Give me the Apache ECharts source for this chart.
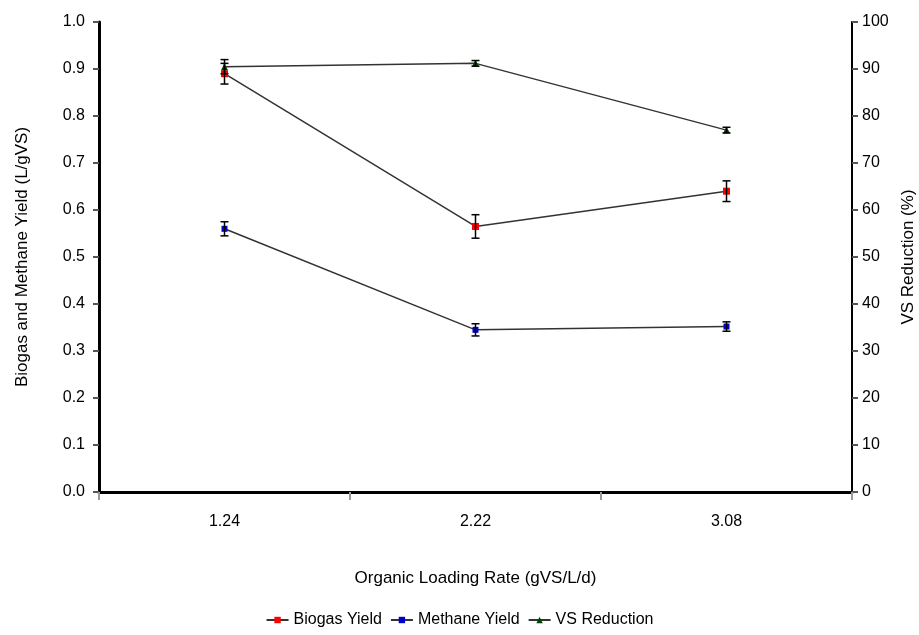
<!DOCTYPE html>
<html>
<head>
<meta charset="UTF-8">
<script src="https://cdn.jsdelivr.net/npm/echarts@6.0.0/dist/echarts.min.js"></script>
<style>
  html, body { margin: 0; padding: 0; background: #fff; }
  #chart { width: 919px; height: 635px; }
</style>
</head>
<body>
<div id="chart"></div>
<script>
// data
const categories = ['1.24', '2.22', '3.08'];
const biogasYield = [0.89, 0.565, 0.64];
const biogasErr = [0.022, 0.025, 0.022];
const methaneYield = [0.56, 0.345, 0.352];
const methaneErr = [0.015, 0.013, 0.01];
const vsReduction = [90.5, 91.2, 77.0];
const vsErr = [1.5, 0.6, 0.6];

const font = 'Liberation Sans, Arial, sans-serif';

// error bar series (custom)
function errorBars(values, errs, yAxisIndex) {
  return {
    type: 'custom',
    yAxisIndex: yAxisIndex,
    silent: true,
    z: 5,
    data: values.map((v, i) => [i, v - errs[i], v + errs[i]]),
    renderItem: function (params, api) {
      const lo = api.coord([api.value(0), api.value(1)]);
      const hi = api.coord([api.value(0), api.value(2)]);
      const w = 4;
      const st = { stroke: '#000', lineWidth: 1.5 };
      return {
        type: 'group',
        children: [
          { type: 'line', shape: { x1: hi[0], y1: hi[1], x2: lo[0], y2: lo[1] }, style: st },
          { type: 'line', shape: { x1: hi[0] - w, y1: hi[1], x2: hi[0] + w, y2: hi[1] }, style: st },
          { type: 'line', shape: { x1: lo[0] - w, y1: lo[1], x2: lo[0] + w, y2: lo[1] }, style: st }
        ]
      };
    }
  };
}

const chart = echarts.init(document.getElementById('chart'));
chart.setOption({
  animation: false,
  textStyle: { fontFamily: font },
  grid: { left: 99, right: 67, top: 22, bottom: 143, outerBoundsMode: 'none' },
  legend: {
    bottom: 2,
    left: 'center',
    itemGap: 8,
    itemWidth: 22,
    itemHeight: 8,
    textStyle: { fontSize: 16, color: '#000', fontFamily: font },
    data: ['Biogas Yield', 'Methane Yield', 'VS Reduction']
  },
  xAxis: {
    type: 'category',
    data: categories,
    boundaryGap: true,
    name: 'Organic Loading Rate (gVS/L/d)',
    nameLocation: 'middle',
    nameGap: 78,
    nameTextStyle: { fontSize: 17, color: '#000' },
    axisLine: { lineStyle: { color: '#000', width: 3 } },
    axisTick: { show: true, length: 8, lineStyle: { color: '#999', width: 2 } },
    axisLabel: { fontSize: 16, color: '#000', margin: 22 }
  },
  yAxis: [
    {
      type: 'value',
      min: 0, max: 1, interval: 0.1,
      name: 'Biogas and Methane Yield (L/gVS)',
      nameLocation: 'middle',
      nameGap: 68,
      nameRotate: 90,
      nameTextStyle: { fontSize: 17, color: '#000' },
      axisLine: { show: true, lineStyle: { color: '#000', width: 3 } },
      axisTick: { show: true, length: 6, lineStyle: { color: '#555', width: 2 } },
      axisLabel: { fontSize: 16, color: '#000', margin: 14, formatter: v => v.toFixed(1) },
      splitLine: { show: false }
    },
    {
      type: 'value',
      position: 'right',
      min: 0, max: 100, interval: 10,
      name: 'VS Reduction (%)',
      nameLocation: 'middle',
      nameGap: 41,
      nameRotate: 90,
      nameTextStyle: { fontSize: 17, color: '#000' },
      axisLine: { show: true, lineStyle: { color: '#000', width: 2 } },
      axisTick: { show: true, length: 6, lineStyle: { color: '#555', width: 2 } },
      axisLabel: { fontSize: 16, color: '#000', margin: 10 },
      splitLine: { show: false }
    }
  ],
  series: [
    {
      name: 'Biogas Yield',
      type: 'line',
      data: biogasYield,
      symbol: 'rect',
      symbolSize: 7,
      itemStyle: { color: '#ff0000' },
      lineStyle: { color: '#333', width: 1.5 },
      z: 3
    },
    {
      name: 'Methane Yield',
      type: 'line',
      data: methaneYield,
      symbol: 'rect',
      symbolSize: 6,
      itemStyle: { color: '#0000cc' },
      lineStyle: { color: '#333', width: 1.5 },
      z: 3
    },
    {
      name: 'VS Reduction',
      type: 'line',
      yAxisIndex: 1,
      data: vsReduction,
      symbol: 'triangle',
      symbolSize: 7,
      itemStyle: { color: '#004400' },
      lineStyle: { color: '#333', width: 1.5 },
      z: 3
    },
    errorBars(biogasYield, biogasErr, 0),
    errorBars(methaneYield, methaneErr, 0),
    errorBars(vsReduction, vsErr, 1)
  ]
});
</script>
</body>
</html>
